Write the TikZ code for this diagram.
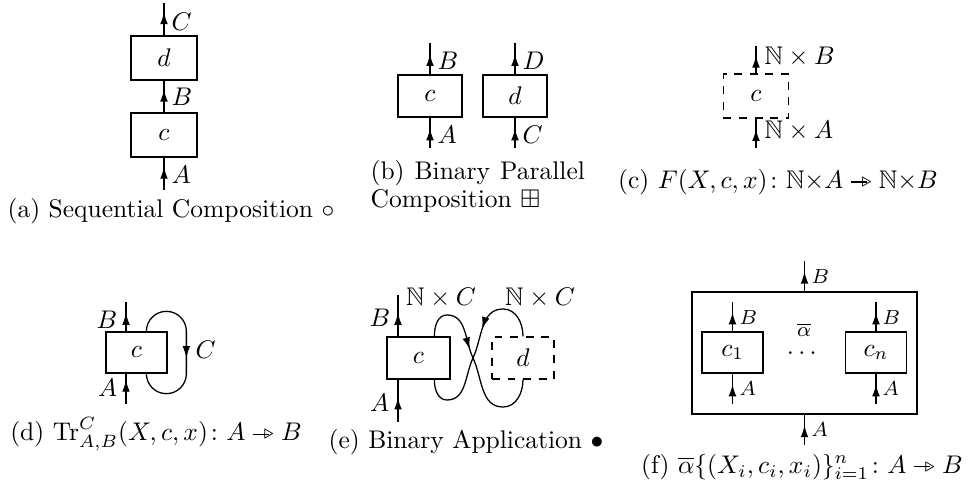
\documentclass[tikz,border=0pt]{standalone}
\usepackage{amsmath,amssymb}
\usetikzlibrary{arrows.meta,decorations.markings,calc}
\newcommand\parto{\mathrel{\vrule height 2.7pt depth -2.3pt width 6.5pt\mkern-4mu\raisebox{0.75pt}{$\scriptstyle\triangleright$}}}
\begin{document}
\begin{tikzpicture}[x=0.392pt,y=0.392pt,
  >={Latex[length=4.7pt,width=3pt]},
  line width=0.5pt,
  box/.style={draw, minimum width=25.1pt, minimum height=16.5pt, inner sep=0pt},
  dashedbox/.style={dash pattern=on 3.1pt off 3pt},
  wire/.style={postaction={decorate,decoration={markings,mark=at position #1 with {\arrow{>}}}}},
  wire/.default=0.7,
  lab/.style={inner sep=0pt, anchor=west},
  labr/.style={inner sep=0pt, anchor=east},
  slab/.style={inner sep=0pt, anchor=west, font=\footnotesize},
  captxt/.style={inner sep=0pt}]
\useasboundingbox (0,0) rectangle (968,-487);

% ---------- (a) ----------
\node[box, minimum width=25.9pt, minimum height=17.3pt] (ad) at (164,-58) {$d$};
\node[box, minimum width=25.9pt, minimum height=17.3pt] (ac) at (164,-135) {$c$};
\coordinate (atop) at (164,-3);
\coordinate (abot) at (164,-190);
\draw[wire=0.72] (abot) -- (ac.south);
\draw[wire=0.72] (ac.north) -- (ad.south);
\draw[wire=0.72] (ad.north) -- (atop);
\node[lab] (aC) at (171,-22) {$C$};
\node[lab] (aB) at (171,-97) {$B$};
\node[lab] (aA) at (171,-175) {$A$};
\node[captxt] (acap) at (171,-211) {(a) Sequential Composition $\circ$};

% ---------- (b) ----------
\node[box] (bc) at (430,-96) {$c$};
\node[box] (bd) at (515,-96) {$d$};
\coordinate (bct) at (430,-43);
\coordinate (bcb) at (430,-148);
\coordinate (bdt) at (515,-43);
\coordinate (bdb) at (515,-148);
\draw[wire=0.65] (bcb) -- (bc.south);
\draw[wire=0.65] (bc.north) -- (bct);
\draw[wire=0.65] (bdb) -- (bd.south);
\draw[wire=0.65] (bd.north) -- (bdt);
\node[lab] (bB) at (437,-61) {$B$};
\node[lab] (bD) at (522,-61) {$D$};
\node[lab] (bA) at (437,-135) {$A$};
\node[lab] (bC) at (522,-135) {$C$};
\node[captxt, anchor=west] (bcap1) at (370,-173) {\makebox[84pt][s]{(b) Binary Parallel}};
\node[captxt, anchor=west] (bcap2) at (370,-201) {Composition $\boxplus$};

% ---------- (c) ----------
\node[box, dashedbox, minimum width=25.5pt, minimum height=17.3pt] (cc) at (756,-96) {$c$};
\coordinate (cct) at (756,-46);
\coordinate (ccb) at (756,-148);
\draw[wire=0.65] (ccb) -- (cc.south);
\draw[wire=0.65] (cc.north) -- (cct);
\node[lab] (cB) at (764,-57) {$\mathbb{N}\times B$};
\node[lab] (cA) at (764,-131) {$\mathbb{N}\times A$};
\node[captxt] (ccap) at (778,-182) {(c) $F(X,c,x)\colon \mathbb{N}{\times}A \parto \mathbb{N}{\times}B$};

% ---------- (d) ----------
\node[box, minimum width=23.9pt, minimum height=16.1pt] (dc) at (136.5,-352.5) {$c$};
\coordinate (dtop) at (126,-302);
\coordinate (dbot) at (126,-404);
\draw[wire=0.8] (dbot) -- (dbot |- dc.south);
\draw[wire=0.63] (dtop |- dc.north) -- (dtop);
\draw[wire=0.533] ($(dc.north west)+(41,0)$) arc[start angle=180,end angle=0,radius=20]
   -- ($(dc.south west)+(81,0)$) arc[start angle=0,end angle=-180,radius=20];
\node[labr] (dB) at (118,-320) {$B$};
\node[labr] (dA) at (118,-388) {$A$};
\node[lab] (dC) at (195,-350) {$C$};
\node[captxt] (dcap) at (156,-434) {(d) $\mathrm{Tr}^{C}_{A,B}(X,c,x)\colon A\parto B$};

% ---------- (e) ----------
\node[box, minimum width=24.7pt, minimum height=16.5pt] (ec) at (418.5,-358) {$c$};
\node[box, dashedbox, minimum width=24.3pt, minimum height=16.5pt] (ed) at (523,-358) {$d$};
\coordinate (etop) at (398,-295);
\coordinate (ebot) at (398,-422);
\coordinate (ex) at (473,-358);
\draw[wire=0.58] (ebot) -- (ebot |- ec.south);
\draw[wire=0.57] (etop |- ec.north) -- (etop);
\draw[wire=0.4] ($(ec.north west)+(48,0)$) to[out=90,in=180] (447,-315) to[out=0,in=115] (ex)
   to[out=-65,in=180] (503,-407) to[out=0,in=-90] (ed.south);
\draw[wire=0.385] (ed.north) to[out=90,in=0] (503,-309) to[out=180,in=65] (ex)
   to[out=-115,in=0] (447,-400) to[out=180,in=-90] ($(ec.south west)+(48,0)$);
\node[labr] (eB) at (391,-318) {$B$};
\node[labr] (eA) at (390,-403) {$A$};
\node[inner sep=0pt] (eN1) at (441,-298) {$\mathbb{N}\times C$};
\node[inner sep=0pt] (eN2) at (540,-298) {$\mathbb{N}\times C$};
\node[captxt] (ecap) at (466,-442) {(e) Binary Application $\bullet$};

% ---------- (f) ----------
\node[box, minimum width=88.2pt, minimum height=47.8pt] (fo) at (804.5,-353) {};
\node[box, minimum width=23.9pt, minimum height=16.1pt] (f1) at (732.5,-352.5) {$c_1$};
\node[box, minimum width=23.9pt, minimum height=16.1pt] (fn) at (876,-352.5) {$c_n$};
\coordinate (fot) at (804.5,-261);
\coordinate (fob) at (804.5,-445);
\coordinate (f1t) at (732.5,-302);
\coordinate (f1b) at (732.5,-404);
\coordinate (fnt) at (876,-302);
\coordinate (fnb) at (876,-404);
\draw[wire=0.65] (fob) -- (fo.south);
\draw[wire=0.65] (fo.north) -- (fot);
\draw[wire=0.65] (f1b) -- (f1.south);
\draw[wire=0.65] (f1.north) -- (f1t);
\draw[wire=0.65] (fnb) -- (fn.south);
\draw[wire=0.65] (fn.north) -- (fnt);
\node[slab] (foB) at (811,-277) {$B$};
\node[slab] (foA) at (811,-430) {$A$};
\node[slab] (f1B) at (739,-318) {$B$};
\node[slab] (f1A) at (739,-389) {$A$};
\node[slab] (fnB) at (882,-318) {$B$};
\node[slab] (fnA) at (882,-389) {$A$};
\node[inner sep=0pt, font=\footnotesize] (falpha) at (804,-330) {$\overline{\alpha}$};
\node[inner sep=0pt] (fdots) at (804,-354) {$\cdots$};
\node[captxt] (fcap) at (802,-467) {(f) $\overline{\alpha}\{(X_i,c_i,x_i)\}_{i=1}^{n}\colon A\parto B$};
\end{tikzpicture}
\end{document}
